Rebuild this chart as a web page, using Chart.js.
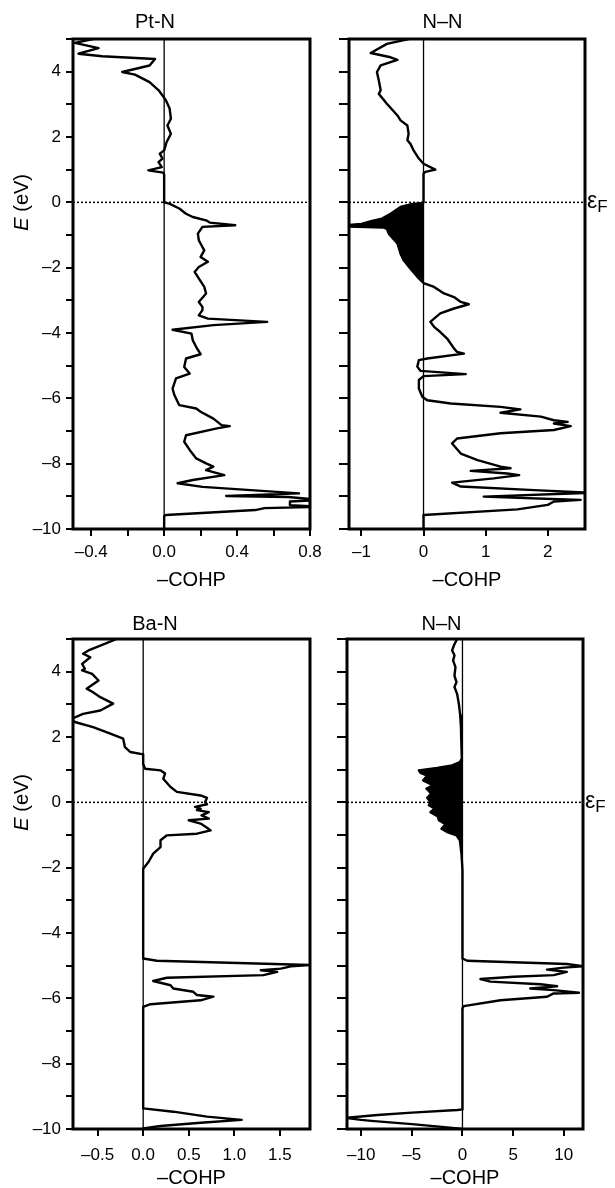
<!DOCTYPE html>
<html>
<head>
<meta charset="utf-8">
<script src="https://cdn.jsdelivr.net/npm/chart.js@4.4.1/dist/chart.umd.min.js"></script>
<style>
  body { margin: 0; background: #fff; width: 615px; height: 1188px; position: relative; overflow: hidden; }
  canvas { position: absolute; }
</style>
</head>
<body>
<canvas id="ptn" width="330" height="596" style="left:0;top:0"></canvas>
<canvas id="nnTop" width="315" height="596" style="left:300px;top:0"></canvas>
<canvas id="ban" width="330" height="588" style="left:0;top:600px"></canvas>
<canvas id="nnBot" width="315" height="588" style="left:300px;top:600px"></canvas>
<script>
// energy axis (eV), shared by all panels
const eTicks = [-10, -9, -8, -7, -6, -5, -4, -3, -2, -1, 0, 1, 2, 3, 4, 5];
const eLabelled = [-10, -8, -6, -4, -2, 0, 2, 4];

// Pt-N
const ptnE = [5.00, 4.88, 4.72, 4.55, 4.47, 4.39, 4.19, 3.99, 3.91, 3.68, 3.43, 3.12, 2.87, 2.56, 2.35, 2.10,
  1.84, 1.59, 1.49, 1.34, 1.23, 1.08, 0.98, 0.91, 0.85, 0.00, -0.04, -0.19, -0.35, -0.45, -0.55, -0.62,
  -0.70, -0.75, -0.96, -1.16, -1.47, -1.67, -1.82, -1.98, -2.13, -2.33, -2.59, -2.79, -3.05, -3.20, -3.30,
  -3.46, -3.56, -3.66, -3.76, -3.90, -4.02, -4.22, -4.43, -4.65, -4.78, -5.04, -5.24, -5.39, -5.70, -5.90,
  -6.21, -6.31, -6.41, -6.62, -6.82, -6.85, -6.92, -7.13, -7.33, -7.58, -7.84, -7.99, -8.09, -8.20, -8.35,
  -8.50, -8.60, -8.71, -8.91, -8.99, -9.02, -9.11, -9.16, -9.27, -9.32, -9.36, -9.42, -9.57, -9.60, -10.00];
const ptnCohp = [-0.39, -0.49, -0.36, -0.47, -0.34, -0.05, -0.08, -0.23, -0.16, -0.08, -0.03, 0.01, 0.03, 0.037, 0.018, 0.037,
  0.013, 0.0, -0.024, -0.009, -0.031, -0.013, -0.087, -0.005, 0.0, 0.0, 0.028, 0.083, 0.12, 0.157, 0.23, 0.25,
  0.39, 0.21, 0.185, 0.19, 0.22, 0.20, 0.24, 0.19, 0.167, 0.19, 0.22, 0.23, 0.19, 0.21, 0.21,
  0.19, 0.24, 0.565, 0.27, 0.046, 0.15, 0.157, 0.176, 0.20, 0.12, 0.11, 0.14, 0.065, 0.046, 0.056,
  0.083, 0.176, 0.20, 0.27, 0.315, 0.36, 0.29, 0.12, 0.11, 0.14, 0.176, 0.23, 0.27, 0.23, 0.33,
  0.157, 0.074, 0.21, 0.74, 0.34, 0.68, 0.85, 0.69, 0.69, 0.85, 0.55, 0.50, 0.01, 0.0, 0.0];

// N-N (top)
const nnTopE = [5.00, 4.85, 4.57, 4.44, 4.36, 4.19, 3.99, 3.73, 3.43, 3.32, 3.02, 2.66, 2.51, 2.35, 2.10, 1.90,
  1.79, 1.59, 1.34, 1.18, 1.00, 0.93, 0.88, 0.00, -0.03, -0.06, -0.14, -0.35, -0.50, -0.57, -0.66, -0.70,
  -0.74, -0.77, -0.81, -0.96, -1.26, -1.57, -1.77, -2.03, -2.28, -2.47, -2.59, -2.79, -2.90, -3.05, -3.12,
  -3.25, -3.40, -3.56, -3.66, -3.81, -3.97, -4.17, -4.47, -4.58, -4.63, -4.78, -4.83, -5.03, -5.16, -5.26,
  -5.32, -5.44, -5.70, -5.95, -6.06, -6.16, -6.26, -6.34, -6.44, -6.56, -6.67, -6.72, -6.77, -6.85, -6.97,
  -7.07, -7.23, -7.38, -7.69, -7.89, -8.09, -8.14, -8.22, -8.30, -8.35, -8.45, -8.58, -8.70, -8.81, -8.89,
  -9.01, -9.11, -9.16, -9.26, -9.40, -9.57, -10.00];
const nnTopCohp = [-0.24, -0.59, -0.85, -0.53, -0.42, -0.69, -0.75, -0.72, -0.69, -0.72, -0.59, -0.42, -0.37, -0.26, -0.24, -0.26,
  -0.21, -0.16, -0.075, 0.0, 0.19, 0.03, 0.0, 0.0, -0.05, -0.21, -0.37, -0.53, -0.67, -0.83, -1.0, -1.25,
  -1.25, -0.65, -0.59, -0.56, -0.42, -0.37, -0.32, -0.21, -0.10, 0.0, 0.17, 0.33, 0.49, 0.60, 0.73,
  0.49, 0.27, 0.17, 0.11, 0.17, 0.27, 0.38, 0.49, 0.54, 0.65, 0.06, -0.075, -0.10, -0.05, 0.68,
  0.0, -0.075, -0.075, -0.02, 0.06, 0.44, 1.24, 1.56, 1.24, 1.89, 2.10, 2.32, 2.10, 2.37, 2.10,
  1.24, 0.54, 0.46, 0.60, 0.87, 1.24, 1.40, 0.76, 1.35, 1.54, 1.13, 0.46, 0.60, 1.78, 2.7,
  0.97, 2.53, 2.10, 2.0, 1.51, 0.0, 0.0];
const nnTopFill = [0, -2.47];

// Ba-N
const banE = [5.00, 4.80, 4.65, 4.55, 4.44, 4.24, 4.09, 4.04, 3.93, 3.73, 3.48, 3.37, 3.22, 3.02, 2.81, 2.71,
  2.56, 2.46, 2.30, 2.10, 1.95, 1.69, 1.54, 1.47, 1.18, 1.03, 0.98, 0.88, 0.72, 0.47, 0.32, 0.21, 0.14,
  0.01, -0.06, -0.14, -0.19, -0.24, -0.30, -0.40, -0.50, -0.55, -0.65, -0.78, -0.86, -0.96, -1.01, -1.16,
  -1.37, -1.57, -1.82, -2.03, -4.78, -4.85, -4.98, -5.02, -5.09, -5.14, -5.19, -5.29, -5.37, -5.47, -5.60,
  -5.70, -5.80, -5.90, -5.95, -6.06, -6.18, -6.26, -9.37, -9.47, -9.62, -9.72, -9.81, -9.91, -9.98, -10.00];
const banCohp = [-0.29, -0.47, -0.60, -0.66, -0.58, -0.67, -0.64, -0.67, -0.56, -0.49, -0.62, -0.55, -0.47, -0.33, -0.47, -0.66,
  -0.78, -0.75, -0.55, -0.36, -0.22, -0.20, -0.14, 0.0, 0.0, 0.02, 0.19, 0.24, 0.22, 0.30, 0.37, 0.63, 0.70,
  0.68, 0.70, 0.57, 0.63, 0.59, 0.72, 0.64, 0.72, 0.50, 0.63, 0.70, 0.74, 0.59, 0.26, 0.19,
  0.19, 0.11, 0.06, 0.0, 0.0, 0.15, 1.85, 1.62, 1.51, 1.29, 1.47, 1.32, 0.26, 0.11, 0.30,
  0.33, 0.55, 0.59, 0.77, 0.63, 0.08, 0.0, 0.0, 0.33, 0.70, 1.08, 0.63, 0.19, 0.0, 0.0];

// N-N (bottom)
const nnBotE = [5.00, 4.80, 4.65, 4.50, 4.34, 4.14, 3.88, 3.68, 3.53, 3.32, 3.02, 2.66, 2.30, 1.90, 1.49, 1.34,
  1.23, 1.13, 1.05, 0.98, 0.90, 0.82, 0.67, 0.52, 0.42, 0.27, 0.14, 0.01, -0.09, -0.19, -0.30, -0.43, -0.55,
  -0.67, -0.81, -0.91, -1.01, -1.16, -1.57, -2.08, -4.78, -4.85, -4.95, -5.02, -5.06, -5.12, -5.19, -5.29,
  -5.34, -5.41, -5.49, -5.57, -5.63, -5.70, -5.75, -5.83, -5.85, -5.95, -6.06, -6.24, -6.31, -9.40, -9.42,
  -9.50, -9.57, -9.66, -9.72, -9.75, -9.85, -9.95, -10.00];
const nnBotCohp = [-0.53, -0.85, -1.02, -0.79, -0.92, -0.69, -0.79, -0.59, -0.79, -0.53, -0.36, -0.22, -0.15, -0.12, -0.08, -0.05,
  -0.26, -1.02, -2.5, -4.31, -4.14, -3.48, -3.88, -2.89, -3.55, -3.09, -3.48, -3.16, -3.32, -2.76, -3.16, -2.43, -2.33,
  -1.68, -2.07, -1.51, -0.59, -0.26, -0.10, 0.0, 0.0, 0.46, 10.3, 12.0, 10.0, 8.35, 10.3, 9.0,
  5.06, 1.78, 2.76, 7.69, 9.34, 6.7, 9.0, 11.5, 9.0, 8.35, 3.75, 0.13, 0.0, 0.0, -0.5,
  -5.0, -8.4, -11.6, -10.0, -9.0, -5.0, -1.5, 0.0];
const nnBotFill = [1.34, -2.08];

// -COHP axes per panel
const ptnTicks = [-0.4, -0.2, 0, 0.2, 0.4, 0.6, 0.8];
const ptnLabels = ['–0.4', '', '0.0', '', '0.4', '', '0.8'];
const nnTopTicks = [-1, 0, 1, 2];
const nnTopLabels = ['–1', '0', '1', '2'];
const banTicks = [-0.5, 0, 0.5, 1.0, 1.5];
const banLabels = ['–0.5', '0.0', '0.5', '1.0', '1.5'];
const nnBotTicks = [-10, -5, 0, 5, 10];
const nnBotLabels = ['–10', '–5', '0', '5', '10'];

const FONT = "'Liberation Sans', Arial, Helvetica, sans-serif";
Chart.defaults.font.family = FONT;
Chart.defaults.color = '#000';

const fmtE = (v) => (v < 0 ? '–' + Math.abs(v) : String(v));

// zero lines, frame, E label and Fermi label
const decor = {
  id: 'decor',
  beforeDatasetsDraw(chart) {
    const { ctx, chartArea: a, scales: { x, y } } = chart;
    const x0 = x.getPixelForValue(0);
    const y0 = y.getPixelForValue(0);
    ctx.save();
    ctx.strokeStyle = '#000';
    ctx.lineWidth = 1.3;
    ctx.beginPath();
    ctx.moveTo(x0, a.top);
    ctx.lineTo(x0, a.bottom);
    ctx.stroke();
    ctx.lineWidth = 1.5;
    ctx.setLineDash([2, 2]);
    ctx.beginPath();
    ctx.moveTo(a.left, y0);
    ctx.lineTo(a.right, y0);
    ctx.stroke();
    ctx.restore();
  },
  afterDraw(chart, args, opts) {
    const { ctx, chartArea: a, scales: { y } } = chart;
    const y0 = y.getPixelForValue(0);
    ctx.save();
    ctx.strokeStyle = '#000';
    ctx.lineWidth = 3;
    ctx.strokeRect(a.left, a.top, a.right - a.left, a.bottom - a.top);
    ctx.fillStyle = '#000';
    if (opts.eLabel) {
      ctx.translate(22.5, y0);
      ctx.rotate(-Math.PI / 2);
      ctx.textBaseline = 'middle';
      ctx.textAlign = 'left';
      ctx.font = 'italic 20px ' + FONT;
      const w1 = ctx.measureText('E').width;
      ctx.font = '20px ' + FONT;
      const w2 = ctx.measureText(' (eV)').width;
      const start = -(w1 + w2) / 2;
      ctx.font = 'italic 20px ' + FONT;
      ctx.fillText('E', start, 0);
      ctx.font = '20px ' + FONT;
      ctx.fillText(' (eV)', start + w1, 0);
    }
    if (opts.fermi) {
      ctx.textBaseline = 'alphabetic';
      ctx.textAlign = 'left';
      ctx.font = '23px ' + FONT;
      const xe = a.right + 2;
      ctx.fillText('ε', xe, y0 + 6);
      const we = ctx.measureText('ε').width;
      ctx.font = '17px ' + FONT;
      ctx.fillText('F', xe + we, y0 + 10);
    }
    ctx.restore();
  }
};

function panel(id, title, E, cohp, fillRange, xMin, xMax, xTicks, xLabels, o) {
  const pts = E.map((e, i) => ({ x: cohp[i], y: e }));
  const datasets = [{
    data: pts, borderColor: '#000', borderWidth: 2.4, borderJoinStyle: 'round',
    pointRadius: 0, fill: false
  }];
  if (fillRange) {
    datasets.push({
      data: pts.filter((p) => p.y <= fillRange[0] && p.y >= fillRange[1]),
      borderColor: '#000', borderWidth: 1, backgroundColor: '#000',
      pointRadius: 0, fill: 'origin'
    });
  }
  new Chart(document.getElementById(id), {
    type: 'line',
    data: { datasets },
    options: {
      indexAxis: 'y',
      responsive: false,
      animation: false,
      events: [],
      layout: { padding: { right: o.right } },
      plugins: {
        legend: { display: false },
        tooltip: { enabled: false },
        title: {
          display: true, text: title, color: '#000',
          font: { size: 20, weight: 'normal', lineHeight: 1 },
          padding: { top: o.titleTop, bottom: 19 - o.titleTop }
        },
        decor: { eLabel: o.eLabel, fermi: o.fermi }
      },
      scales: {
        x: {
          type: 'linear', min: xMin, max: xMax,
          afterBuildTicks: (s) => { s.ticks = xTicks.map((v) => ({ value: v })); },
          afterFit: (s) => { s.height = o.xH; },
          ticks: {
            autoSkip: false, maxRotation: 0, padding: o.xPad,
            font: { size: 17 }, color: '#000',
            callback: (v, i) => xLabels[i]
          },
          grid: { drawOnChartArea: false, tickLength: 7, lineWidth: 2, color: '#000' },
          border: { display: false },
          title: {
            display: true, text: '–COHP', color: '#000',
            font: { size: 20, weight: 'normal', lineHeight: 1 },
            padding: { top: 0, bottom: o.xTitleBottom }
          }
        },
        y: {
          type: 'linear', min: -10, max: 5,
          afterBuildTicks: (s) => { s.ticks = eTicks.map((v) => ({ value: v })); },
          afterFit: (s) => { s.width = o.yW; },
          ticks: {
            autoSkip: false, padding: 5, font: { size: 17 }, color: '#000',
            callback: (v) => (o.eLabel && eLabelled.includes(v) ? fmtE(v) : '')
          },
          grid: { drawOnChartArea: false, tickLength: o.yTick, lineWidth: 2, color: '#000' },
          border: { display: false }
        }
      }
    },
    plugins: [decor]
  });
}

panel('ptn', 'Pt-N', ptnE, ptnCohp, null, -0.5, 0.8, ptnTicks, ptnLabels,
  { right: 20, titleTop: 12, xH: 67, xPad: 6, xTitleBottom: 6, yW: 73, yTick: 7, eLabel: true, fermi: false });
panel('nnTop', 'N–N', nnTopE, nnTopCohp, nnTopFill, -1.2, 2.6, nnTopTicks, nnTopLabels,
  { right: 30, titleTop: 12, xH: 67, xPad: 6, xTitleBottom: 6, yW: 49, yTick: 10, eLabel: false, fermi: true });
panel('ban', 'Ba-N', banE, banCohp, null, -0.77, 1.83, banTicks, banLabels,
  { right: 20, titleTop: 14, xH: 59, xPad: 9, xTitleBottom: 0, yW: 73, yTick: 7, eLabel: true, fermi: false });
panel('nnBot', 'N–N', nnBotE, nnBotCohp, nnBotFill, -11.4, 11.9, nnBotTicks, nnBotLabels,
  { right: 32, titleTop: 14, xH: 59, xPad: 9, xTitleBottom: 0, yW: 47, yTick: 10, eLabel: false, fermi: true });
</script>
</body>
</html>
